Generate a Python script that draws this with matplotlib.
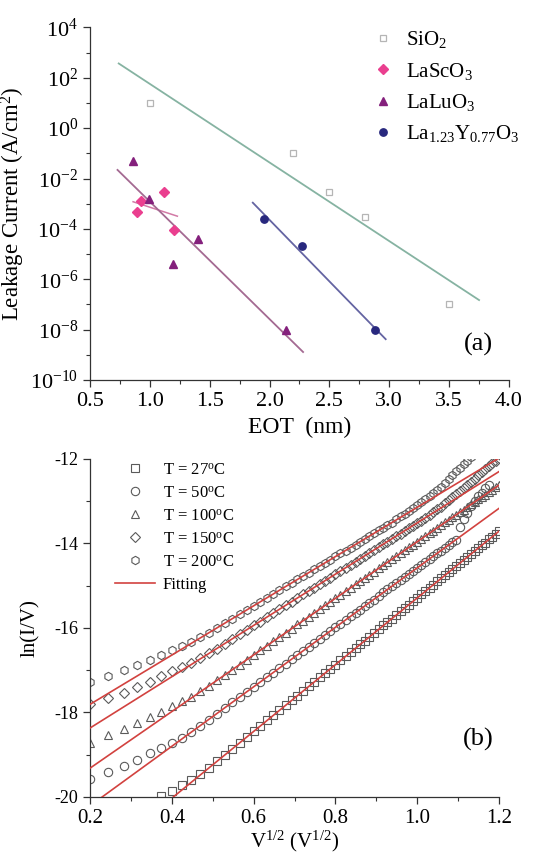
import numpy as np
import matplotlib
matplotlib.use("Agg")
import matplotlib.pyplot as plt
from matplotlib.ticker import FixedLocator, FuncFormatter, MultipleLocator

plt.rcParams['font.family'] = ['Liberation Serif', 'DejaVu Serif']
plt.rcParams['mathtext.fontset'] = 'custom'
plt.rcParams['mathtext.rm'] = 'Liberation Serif'
plt.rcParams['mathtext.it'] = 'Liberation Serif:italic'
plt.rcParams['mathtext.bf'] = 'Liberation Serif:bold'
plt.rcParams['axes.unicode_minus'] = False

# ---- panel (a): leakage current vs EOT ----
sio2_eot = [1.0, 2.2, 2.5, 2.8, 3.5]
sio2_j = [10, 0.1, 3e-3, 3e-4, 1e-7]
sio2_fit_eot = [0.74, 3.75]
sio2_fit_j = [370, 1.5e-7]

lasco_eot = [0.89, 0.93, 1.12, 1.20]
lasco_j = [4.6e-4, 1.25e-3, 3e-3, 8.7e-5]
lasco_fit_eot = [0.86, 1.23]
lasco_fit_j = [1.2e-3, 3.2e-4]

lalu_eot = [0.86, 0.99, 1.40, 1.19, 2.14]
lalu_j = [5.2e-2, 1.5e-3, 4e-5, 4.2e-6, 1e-8]
lalu_fit_eot = [0.73, 2.28]
lalu_fit_j = [2.2e-2, 1.3e-9]

lay_eot = [1.95, 2.27, 2.88]
lay_j = [2.4e-4, 2.1e-5, 1e-8]
lay_fit_eot = [1.86, 2.97]
lay_fit_j = [1.1e-3, 4.2e-9]

# ---- panel (b): ln(I/V) vs V^1/2 ----
vsqrt = [0.200, 0.245, 0.283, 0.316, 0.346, 0.374, 0.400, 0.424, 0.447, 0.469,
         0.490, 0.510, 0.529, 0.548, 0.566, 0.583, 0.600, 0.616, 0.632, 0.648,
         0.663, 0.678, 0.693, 0.707, 0.721, 0.735, 0.748, 0.762, 0.775, 0.787,
         0.800, 0.812, 0.825, 0.837, 0.849, 0.860, 0.872, 0.883, 0.894, 0.906,
         0.917, 0.927, 0.938, 0.949, 0.959, 0.970, 0.980, 0.990, 1.000, 1.010,
         1.020, 1.030, 1.039, 1.049, 1.058, 1.068, 1.077, 1.086, 1.095, 1.105,
         1.114, 1.122, 1.131, 1.140, 1.149, 1.158, 1.166, 1.175, 1.183, 1.192, 1.200]

ln_200 = [-17.27, -17.14, -17.00, -16.88, -16.76, -16.64, -16.52, -16.43, -16.33, -16.22,
          -16.12, -16.00, -15.89, -15.78, -15.68, -15.58, -15.48, -15.39, -15.29, -15.20,
          -15.11, -15.02, -14.94, -14.85, -14.77, -14.69, -14.61, -14.53, -14.46, -14.39,
          -14.31, -14.24, -14.17, -14.10, -14.03, -13.96, -13.89, -13.83, -13.76, -13.69,
          -13.63, -13.57, -13.51, -13.43, -13.36, -13.30, -13.23, -13.16, -13.10, -13.03,
          -12.96, -12.89, -12.82, -12.74, -12.66, -12.57, -12.48, -12.39, -12.30, -12.21,
          -12.12, -12.04, -11.96]
ln_150 = [-17.80, -17.66, -17.55, -17.41, -17.29, -17.15, -17.03, -16.93, -16.82, -16.72,
          -16.60, -16.49, -16.38, -16.26, -16.15, -16.05, -15.94, -15.85, -15.75, -15.65,
          -15.56, -15.47, -15.38, -15.30, -15.21, -15.13, -15.05, -14.96, -14.88, -14.81,
          -14.73, -14.66, -14.58, -14.51, -14.43, -14.37, -14.29, -14.23, -14.16, -14.09,
          -14.02, -13.96, -13.89, -13.83, -13.77, -13.70, -13.64, -13.58, -13.52, -13.46,
          -13.40, -13.33, -13.26, -13.19, -13.13, -13.05, -12.98, -12.91, -12.84, -12.76,
          -12.69, -12.62, -12.54, -12.47, -12.39, -12.32, -12.25, -12.18, -12.11, -12.04, -11.98]
ln_100 = [-18.73, -18.53, -18.40, -18.26, -18.11, -17.98, -17.85, -17.74, -17.63, -17.50,
          -17.38, -17.24, -17.12, -16.99, -16.87, -16.75, -16.64, -16.53, -16.43, -16.32,
          -16.22, -16.12, -16.02, -15.92, -15.83, -15.74, -15.65, -15.55, -15.47, -15.39,
          -15.30, -15.22, -15.13, -15.05, -14.97, -14.90, -14.82, -14.74, -14.67, -14.59,
          -14.52, -14.45, -14.38, -14.30, -14.24, -14.16, -14.09, -14.03, -13.96, -13.89,
          -13.83, -13.76, -13.70, -13.63, -13.57, -13.50, -13.44, -13.38, -13.32, -13.26,
          -13.20, -13.14, -13.08, -13.02, -12.96, -12.90, -12.85, -12.79, -12.73, -12.67, -12.62]
ln_50 = [-19.58, -19.42, -19.27, -19.12, -18.97, -18.85, -18.72, -18.61, -18.47, -18.32,
         -18.17, -18.03, -17.90, -17.76, -17.64, -17.52, -17.40, -17.28, -17.17, -17.06,
         -16.95, -16.85, -16.74, -16.64, -16.54, -16.45, -16.35, -16.26, -16.16, -16.08,
         -15.99, -15.90, -15.81, -15.73, -15.64, -15.57, -15.48, -15.40, -15.33, -15.24,
         -15.16, -15.09, -15.02, -14.94, -14.87, -14.79, -14.72, -14.65, -14.58, -14.51,
         -14.44, -14.37, -14.31, -14.23, -14.17, -14.10, -14.04, -13.97, -13.91, -13.62,
         -13.42, -13.28, -13.12, -13.00, -12.88, -12.80, -12.70, -12.62]
# 27C data starts at the 6th voltage point
ln_27 = [-19.97, -19.85, -19.72, -19.60, -19.46,
         -19.32, -19.16, -19.01, -18.86, -18.72, -18.58, -18.45, -18.32, -18.19, -18.07,
         -17.95, -17.83, -17.71, -17.60, -17.49, -17.38, -17.28, -17.17, -17.06, -16.97,
         -16.87, -16.77, -16.67, -16.58, -16.48, -16.39, -16.30, -16.21, -16.12, -16.03,
         -15.94, -15.86, -15.78, -15.69, -15.61, -15.52, -15.45, -15.37, -15.29, -15.21,
         -15.13, -15.05, -14.98, -14.90, -14.83, -14.75, -14.68, -14.61, -14.54, -14.46,
         -14.39, -14.32, -14.25, -14.18, -14.11, -14.04, -13.98, -13.90, -13.84, -13.77, -13.71]

fit_x = [0.2, 1.2]
fit_200 = [-17.81, -11.98]
fit_150 = [-18.37, -12.30]
fit_100 = [-19.32, -12.62]
fit_50 = [-20.21, -13.17]
fit_27 = [-21.61, -13.71]

fig = plt.figure(figsize=(5.47, 8.56), dpi=100)
ax1 = fig.add_axes([0.1645, 0.556, 0.766, 0.412])
ax2 = fig.add_axes([0.1645, 0.069, 0.748, 0.395])

axc = '#333333'
for ax in (ax1, ax2):
    ax.spines['top'].set_visible(False)
    ax.spines['right'].set_visible(False)
    for s in ('left', 'bottom'):
        ax.spines[s].set_color(axc)
        ax.spines[s].set_linewidth(0.9)
    ax.tick_params(which='major', direction='out', length=5, width=0.9, color=axc)
    ax.tick_params(which='minor', direction='out', length=3, width=0.8, color=axc)

# panel (a)
ax1.set_yscale('log')
ax1.plot(sio2_fit_eot, sio2_fit_j, '-', color='#86b3a2', lw=1.3)
ax1.plot(lasco_fit_eot, lasco_fit_j, '-', color='#d27aa6', lw=1.1)
ax1.plot(lalu_fit_eot, lalu_fit_j, '-', color='#a46a92', lw=1.3)
ax1.plot(lay_fit_eot, lay_fit_j, '-', color='#6464a2', lw=1.3)
h1, = ax1.plot(sio2_eot, sio2_j, 's', ms=4.5, mfc='none', mec='#b5b5b5', mew=0.9, label='SiO$_2$')
h2, = ax1.plot(lasco_eot, lasco_j, 'D', ms=4.8, color='#ea3f8f', mec='#ea3f8f', label='LaScO$_3$')
h3, = ax1.plot(lalu_eot, lalu_j, '^', ms=6, color='#84207c', label='LaLuO$_3$')
h4, = ax1.plot(lay_eot, lay_j, 'o', ms=5.3, color='#28287e', label='La$_{1.23}$Y$_{0.77}$O$_3$')
ax1.set_xlim(0.5, 4.0)
ax1.set_ylim(1e-10, 1e4)
ax1.xaxis.set_major_locator(MultipleLocator(0.5))
ax1.xaxis.set_minor_locator(MultipleLocator(0.25))
ax1.yaxis.set_major_locator(FixedLocator([10.0 ** k for k in range(-10, 5, 2)]))
ax1.yaxis.set_minor_locator(FixedLocator([10.0 ** k for k in range(-9, 4, 2)]))
ax1.yaxis.set_major_formatter(FuncFormatter(lambda v, p: '$10^{%d}$' % int(round(np.log10(v)))))
ax1.yaxis.set_minor_formatter(FuncFormatter(lambda v, p: ''))
ax1.xaxis.set_major_formatter(FuncFormatter(lambda v, p: '%.1f' % v))
ax1.tick_params(axis='both', which='major', labelsize=16)
ax1.set_xlabel('EOT  (nm)', fontsize=17, labelpad=4)
ax1.set_ylabel('Leakage Current (A/cm$^2$)', fontsize=16.5, labelpad=2)
ax1.legend(handles=[h1, h2, h3, h4], loc='upper left', bbox_to_anchor=(0.675, 0.995),
           frameon=False, fontsize=15, handlelength=1.0, handletextpad=0.6,
           labelspacing=0.5, borderpad=0, borderaxespad=0)
ax1.text(0.926, 0.10, '(a)', transform=ax1.transAxes, fontsize=19, ha='center', va='center')

# panel (b)
red = '#d2423f'
for fy in (fit_200, fit_150, fit_100, fit_50, fit_27):
    ax2.plot(fit_x, fy, '-', color=red, lw=1.2, zorder=3)
mk = dict(ls='none', mfc='none', mec='#5a5a5a', mew=0.8, ms=6, zorder=2)
g27, = ax2.plot(vsqrt[5:5 + len(ln_27)], ln_27, 's', label='T = 27$^{\\mathrm{o}}$C', **mk)
g50, = ax2.plot(vsqrt[:len(ln_50)], ln_50, 'o', label='T = 50$^{\\mathrm{o}}$C', **mk)
g100, = ax2.plot(vsqrt[:len(ln_100)], ln_100, '^', label='T = 100$^{\\mathrm{o}}$C', **mk)
g150, = ax2.plot(vsqrt[:len(ln_150)], ln_150, 'D', label='T = 150$^{\\mathrm{o}}$C',
                 **dict(mk, ms=5.5))
g200, = ax2.plot(vsqrt[:len(ln_200)], ln_200, 'h', label='T = 200$^{\\mathrm{o}}$C', **mk)
gfit, = ax2.plot([], [], '-', color=red, lw=1.2, label='Fitting')
ax2.set_xlim(0.2, 1.2)
ax2.set_ylim(-20, -12)
ax2.xaxis.set_major_locator(MultipleLocator(0.2))
ax2.xaxis.set_minor_locator(MultipleLocator(0.1))
ax2.yaxis.set_major_locator(MultipleLocator(2))
ax2.yaxis.set_minor_locator(MultipleLocator(1))
ax2.xaxis.set_major_formatter(FuncFormatter(lambda v, p: '%.1f' % v))
ax2.tick_params(axis='x', which='major', labelsize=15)
ax2.tick_params(axis='y', which='major', labelsize=13)
ax2.set_xlabel('V$^{1/2}$ (V$^{1/2}$)', fontsize=15, labelpad=1)
ax2.set_ylabel('ln(I/V)', fontsize=15, labelpad=10)
ax2.legend(handles=[g27, g50, g100, g150, g200, gfit], loc='upper left',
           bbox_to_anchor=(0.06, 0.99), frameon=False, fontsize=12,
           handlelength=2.4, handletextpad=0.5, labelspacing=0.42,
           borderpad=0, borderaxespad=0)
ax2.text(0.949, 0.17, '(b)', transform=ax2.transAxes, fontsize=19, ha='center', va='center')

fig.savefig('out.png', dpi=100)
